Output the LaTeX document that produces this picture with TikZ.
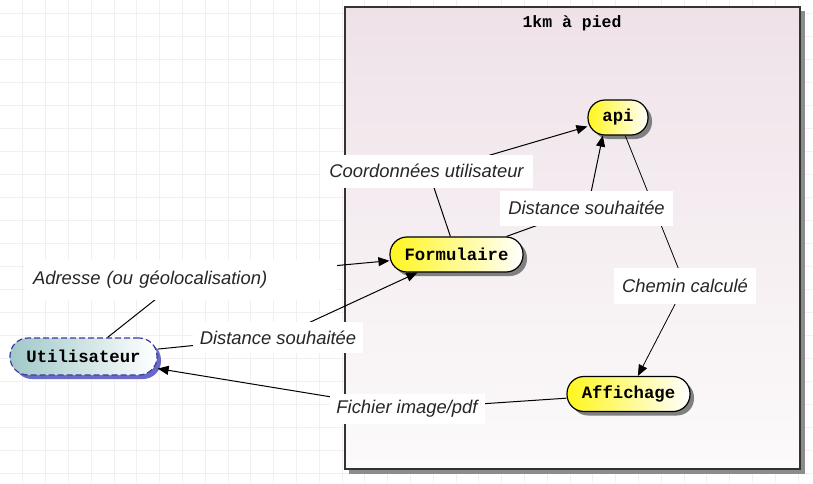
\documentclass[tikz,border=0pt]{standalone}
\usepackage{fontspec}
\setmainfont{Liberation Sans}
\newfontfamily\monofont{Liberation Mono}
\usetikzlibrary{shadows,calc,arrows.meta}
\definecolor{gridc}{RGB}{242,238,242}
\definecolor{frametop}{RGB}{238,226,232}
\definecolor{framebot}{RGB}{252,250,251}
\definecolor{nodeyel}{RGB}{255,246,30}
\definecolor{userfill}{RGB}{160,200,200}
\definecolor{userdraw}{RGB}{60,60,160}
\definecolor{usershadow}{RGB}{105,105,200}
\begin{document}
\begin{tikzpicture}[x=1pt,y=-1pt,
  lbl/.style={fill=white, inner sep=0pt, font=\fontsize{18.4}{21}\selectfont\itshape, text=black!85},
  proc/.style={draw=black, line width=1.2pt, rounded corners=17pt, minimum height=35pt, inner sep=0pt,
    font=\monofont\bfseries\fontsize{17.3}{20}\selectfont,
    left color=nodeyel, middle color=nodeyel!88!white, right color=white,
    drop shadow={shadow xshift=4pt, shadow yshift=-4pt, fill=black!50, opacity=1}},
  actor/.style={draw=userdraw, dash pattern=on 6pt off 3pt, line width=1.2pt, rounded corners=18pt, minimum height=37pt, inner sep=0pt,
    font=\monofont\bfseries\fontsize{17.3}{20}\selectfont,
    left color=userfill, middle color=userfill!60!white, right color=white,
    drop shadow={shadow xshift=4pt, shadow yshift=-4pt, fill=usershadow, opacity=1}},
  flow/.style={line width=1pt, -{Triangle[length=11pt,width=9pt]}},
  framebox/.style={draw=black!80, line width=1.5pt}]
\useasboundingbox (0,0) rectangle (813,483);
\fill[white] (0,0) rectangle (813,483);
% grid
\foreach \i in {1,...,35} \draw[gridc, line width=0.8pt] (22.8*\i,0) -- (22.8*\i,483);
\foreach \j in {0,...,20} \draw[gridc, line width=0.8pt] (0,13+23*\j) -- (813,13+23*\j);
% frame
\fill[black!45] (349,11) rectangle (805,474);
\shade[framebox, top color=frametop, bottom color=framebot] (345,7) rectangle (800,469);
\node[font=\monofont\bfseries\fontsize{16.5}{19}\selectfont] (title) at (572,23) {1km à pied};
% nodes
\node[proc, minimum width=60pt] (api) at (618,117.5) {api};
\node[proc, minimum width=133pt] (form) at (456.5,254.5) {Formulaire};
\node[proc, minimum width=123pt] (aff) at (628.5,394) {Affichage};
\node[actor, minimum width=147pt] (user) at (83.5,356.5) {Utilisateur};
% bends
\coordinate (bAdr) at (180,280);
\coordinate (bDist1) at (278,337);
\coordinate (bCoord) at (429,173);
\coordinate (bDist2) at (588,207);
\coordinate (bChem) at (685,285);
\coordinate (bFich) at (405,409);
% connectors
\draw[flow] (user) -- (bAdr) -- (form);
\draw[flow] (user) -- (bDist1) -- (form);
\draw[flow] (form) -- (bCoord) -- (api);
\draw[flow] (form) -- (bDist2) -- (api.230);
\draw[flow, line width=0.8pt] (api) -- (bChem) -- (aff);
\draw[flow] (aff) -- (bFich) -- (user);
% labels
\node[lbl, minimum width=312pt, minimum height=40pt, text width=296pt, inner xsep=8pt, align=left] (lAdr) at (181,280) {Adresse (ou géolocalisation)};
\node[lbl, minimum width=170pt, minimum height=31pt] (lDist1) at (278,337.5) {Distance souhaitée};
\node[lbl, minimum width=213pt, minimum height=33pt] (lCoord) at (426.5,171) {Coordonnées utilisateur};
\node[lbl, minimum width=173pt, minimum height=35pt] (lDist2) at (586.5,208) {Distance souhaitée};
\node[lbl, minimum width=142pt, minimum height=36pt] (lChem) at (685,286) {Chemin calculé};
\node[lbl, minimum width=155pt, minimum height=30pt] (lFich) at (407,409) {Fichier image/pdf};
\end{tikzpicture}
\end{document}
